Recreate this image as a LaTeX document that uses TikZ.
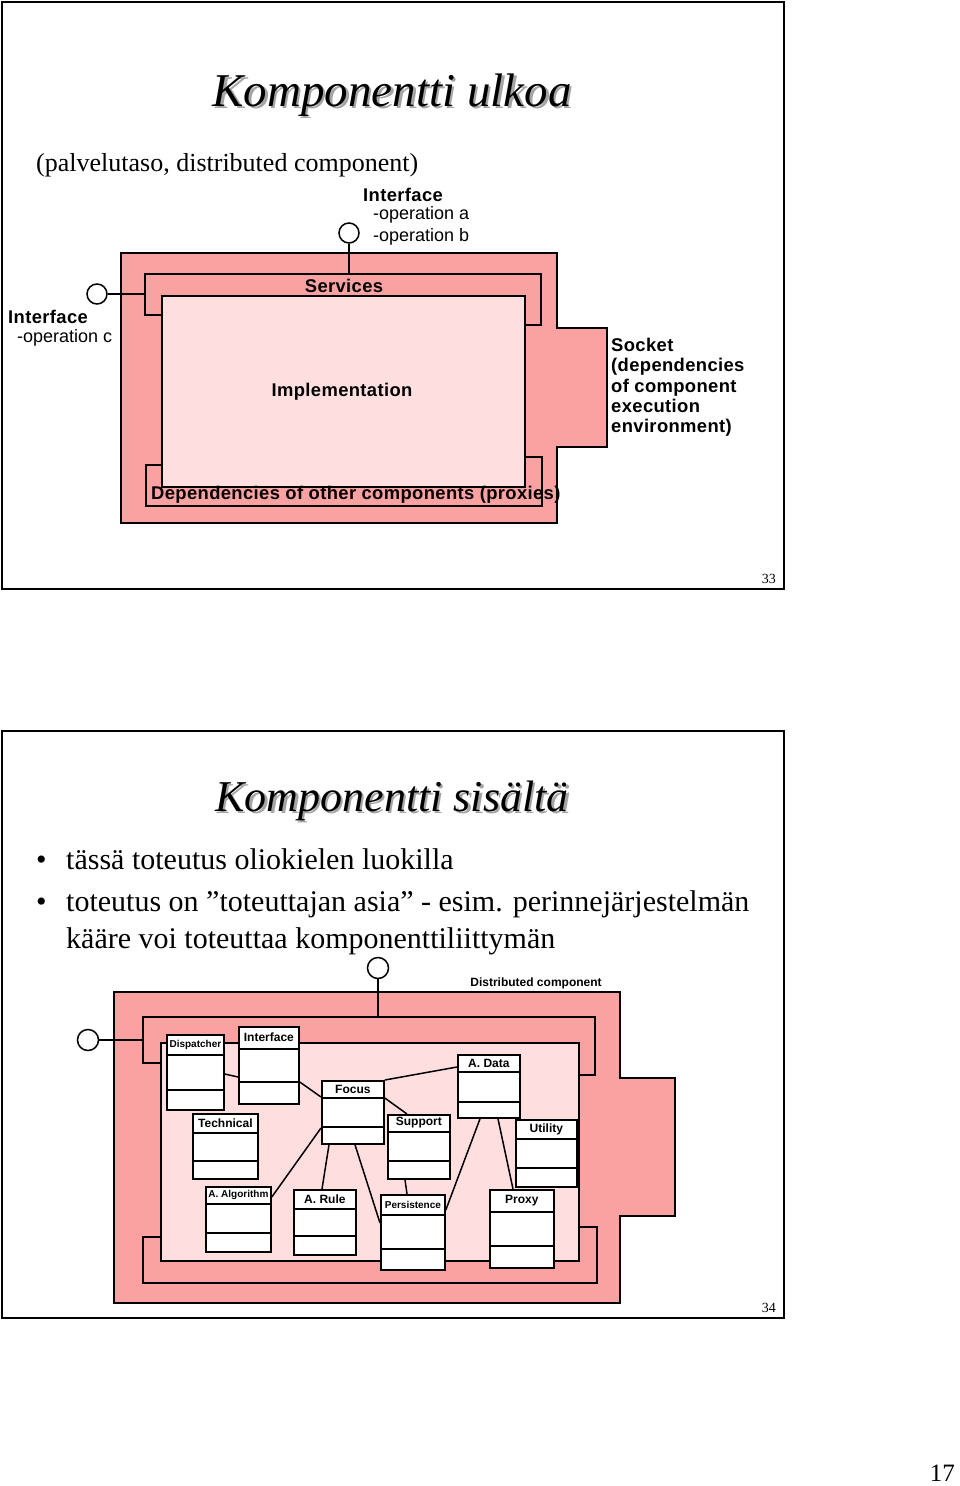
\documentclass[tikz,border=0pt]{standalone}
\usepackage{fontspec}
\setmainfont{Liberation Serif}
\setsansfont{Liberation Sans}

\definecolor{comppink}{RGB}{250,162,162}
\definecolor{implpink}{RGB}{255,222,224}
\definecolor{titleshade}{RGB}{165,165,165}

% class box: name, left, top, width, height, first rule, second rule, label style, label
\newcommand{\umlclass}[9]{%
  \node[classbox, minimum width=#4, minimum height=#5, anchor=north west] (#1) at (#2,#3) {};
  \draw[classrule] ([yshift=-#6]#1.north west) -- ([yshift=-#6]#1.north east);
  \draw[classrule] ([yshift=-#7]#1.north west) -- ([yshift=-#7]#1.north east);
  \node[#8] at ([yshift=-#6/2]#1.north) {#9};
}

\begin{document}
\begin{tikzpicture}[x=1pt, y=-1pt,
  slide/.style={draw=black, line width=1.5pt},
  titletext/.style={font=\itshape\fontsize{47}{50}\selectfont, anchor=base},
  comp/.style={draw=black, fill=comppink, line width=1.8pt},
  impl/.style={draw=black, fill=implpink, line width=1.8pt},
  frame/.style={draw=black, line width=1.8pt},
  ball/.style={circle, draw=black, fill=white, line width=1.5pt, minimum size=20pt, inner sep=0pt},
  bigsans/.style={font=\sffamily\bfseries\fontsize{18.4}{20.3}\selectfont\addfontfeature{LetterSpace=2}, inner sep=0pt},
  opsans/.style={font=\sffamily\fontsize{18}{20}\selectfont, inner sep=0pt, anchor=west},
  classbox/.style={draw=black, fill=white, line width=1.8pt, inner sep=0pt},
  classrule/.style={line width=1.5pt},
  clsname/.style={font=\sffamily\bfseries\fontsize{12}{14}\selectfont, inner sep=0pt},
  clssmall/.style={font=\sffamily\bfseries\fontsize{10}{12}\selectfont, inner sep=0pt},
  assoc/.style={line width=1.5pt},
  pagenum/.style={font=\fontsize{14}{16}\selectfont, anchor=base east, inner sep=0pt}
]
\useasboundingbox (0,0) rectangle (960,1486);

% ---------------- slide 33 ----------------
\draw[slide] (2,2) rectangle (784,589);
\node[titletext, text=titleshade] (title1shade) at (394.5,108.5) {Komponentti ulkoa};
\node[titletext] (title1) at (392,106) {Komponentti ulkoa};
\node[font=\fontsize{26}{30}\selectfont, anchor=base west, inner sep=0pt] (subtitle) at (36,171)
  {(palvelutaso, distributed component)};

% component body with socket
\draw[comp] (121,253) -- (557,253) -- (557,328) -- (607,328) -- (607,447)
  -- (557,447) -- (557,523) -- (121,523) -- cycle;
% services and dependency frames
\draw[frame] (162,315) -- (145,315) -- (145,274) -- (541,274) -- (541,325) -- (524,325);
\draw[frame] (162,465) -- (146,465) -- (146,506) -- (542,506) -- (542,457) -- (525,457);
% implementation
\draw[impl] (162,296) rectangle (525,487);

\node[bigsans] (services) at (344,286) {Services};
\node[bigsans] (implementation) at (342,392) {Implementation};
\node[bigsans, anchor=west] (proxies) at (151,495) {Dependencies of other components (proxies)};

% interfaces
\node[ball] (ifaceab) at (349,233) {};
\coordinate (servtop) at (349,274);
\draw[frame] (ifaceab) -- (servtop);
\node[bigsans, anchor=west] (ifaceablabel) at (363,195) {Interface};
\node[opsans] (opa) at (373,215) {-operation a};
\node[opsans] (opb) at (373,237) {-operation b};

\node[ball] (ifacec) at (97,294) {};
\coordinate (servleft) at (145,294);
\draw[frame] (ifacec) -- (servleft);
\node[bigsans, anchor=west] (ifaceclabel) at (8,317) {Interface};
\node[opsans] (opc) at (17,338) {-operation c};

% socket text
\node[bigsans, align=left, anchor=north west] (socket) at (611,338)
  {Socket\\(dependencies\\of component\\execution\\environment)};

\node[pagenum] (page33) at (776,583.5) {33};

% ---------------- slide 34 ----------------
\draw[slide] (2,731) rectangle (784,1318);
\node[titletext, text=titleshade, font=\itshape\fontsize{44}{48}\selectfont] (title2shade) at (394.5,813.5) {Komponentti sisältä};
\node[titletext, font=\itshape\fontsize{44}{48}\selectfont] (title2) at (392,811) {Komponentti sisältä};

\begin{scope}[every node/.style={font=\fontsize{30}{34}\selectfont, anchor=base west, inner sep=0pt}]
  \node (bullet1) at (36,869) {•};
  \node (line1) at (66,869) {tässä toteutus oliokielen luokilla};
  \node (bullet2) at (36,911) {•};
  \node (line2) at (66,911) {toteutus on ”toteuttajan asia” - esim. perinnejärjestelmän};
  \node (line3) at (66,948) {kääre voi toteuttaa komponenttiliittymän};
\end{scope}

% component body with socket
\draw[comp] (114,992) -- (620,992) -- (620,1078) -- (675,1078) -- (675,1216)
  -- (620,1216) -- (620,1303) -- (114,1303) -- cycle;
\draw[frame] (161,1063) -- (143,1063) -- (143,1017) -- (595,1017) -- (595,1075) -- (578,1075);
\draw[frame] (161,1237) -- (143,1237) -- (143,1283) -- (597,1283) -- (597,1227) -- (579,1227);
\draw[impl] (161,1043) rectangle (579,1261);

\node[clsname] (distcomp) at (536,983) {Distributed component};

% interfaces
\node[ball, minimum size=21pt] (ifacetop) at (378,968) {};
\coordinate (servtop2) at (378,1017);
\draw[frame] (ifacetop) -- (servtop2);
\node[ball, minimum size=21pt] (ifaceleft) at (88,1040) {};
\coordinate (servleft2) at (143,1040);
\draw[frame] (ifaceleft) -- (servleft2);

% classes
\umlclass{disp}{166}{1034}{57}{75}{21}{56}{clssmall}{Dispatcher}
\umlclass{intf}{238}{1026}{60}{77}{23}{56}{clsname}{Interface}
\umlclass{focus}{321}{1080}{62}{63}{18}{47}{clsname}{Focus}
\umlclass{adata}{457}{1054}{62}{63}{18}{48}{clsname}{A. Data}
\umlclass{tech}{192}{1113}{65}{65}{20}{48}{clsname}{Technical}
\umlclass{support}{387}{1114}{62}{64}{18}{47}{clsname}{Support}
\umlclass{utility}{515}{1119}{61}{67}{20}{49}{clsname}{Utility}
\umlclass{aalg}{205}{1186}{65}{65}{18}{47}{clssmall}{A. Algorithm}
\umlclass{arule}{293}{1189}{62}{65}{20}{47}{clsname}{A. Rule}
\umlclass{pers}{380}{1194}{64}{75}{21}{55}{clssmall}{Persistence}
\umlclass{proxy}{489}{1189}{64}{78}{23}{57}{clsname}{Proxy}

% associations
\draw[assoc] ([yshift=-40]disp.north east) -- ([yshift=-51]intf.north west);
\draw[assoc] ([yshift=-56]intf.north east) -- ([yshift=-17]focus.north west);
\draw[assoc] (focus.north east) -- ([yshift=-13]adata.north west);
\draw[assoc] ([yshift=-18]focus.north east) -- ([xshift=20]support.north west);
\draw[assoc] ([yshift=-48]focus.north west) -- ([yshift=-11]aalg.north east);
\draw[assoc] ([xshift=8]focus.south west) -- ([xshift=29]arule.north west);
\draw[assoc] ([xshift=34]focus.south west) -- ([yshift=-29]pers.north west);
\draw[assoc] ([xshift=18]support.south west) -- ([xshift=27]pers.north west);
\draw[assoc] ([xshift=23]adata.south west) -- ([yshift=-16]pers.north east);
\draw[assoc] ([xshift=41]adata.south west) -- ([xshift=24]proxy.north west);

\node[pagenum] (page34) at (776,1312.5) {34};
\node[font=\fontsize{25}{28}\selectfont, anchor=base east, inner sep=0pt] (page17) at (955,1481) {17};
\end{tikzpicture}
\end{document}
